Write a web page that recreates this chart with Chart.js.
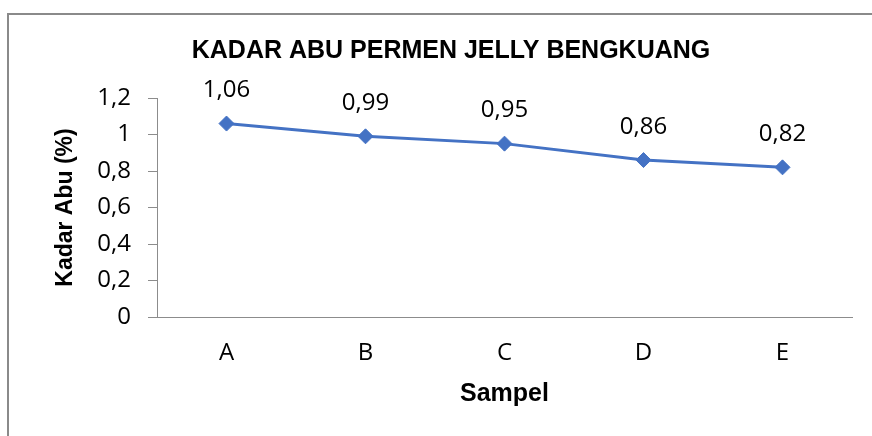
<!DOCTYPE html>
<html>
<head>
<meta charset="utf-8">
<script src="https://cdn.jsdelivr.net/npm/chart.js@4"></script>
<style>
  html, body { margin: 0; padding: 0; background: #fff; }
  #wrap { position: relative; width: 872px; height: 436px; overflow: hidden; }
  #frame { position: absolute; left: 7px; top: 13px; width: 900px; height: 460px;
           border-top: 2px solid #8a8a8a; border-left: 2px solid #8a8a8a; pointer-events: none; }
</style>
</head>
<body>
<div id="wrap">
  <canvas id="chart" width="872" height="436"></canvas>
  <div id="frame"></div>
</div>
<script>
// ===== chart data =====
const samples = ['A', 'B', 'C', 'D', 'E'];
const ashValues = [1.06, 0.99, 0.95, 0.86, 0.82];
const chartTitle = 'KADAR ABU PERMEN JELLY BENGKUANG';
const xTitle = 'Sampel';
const yTitle = 'Kadar Abu (%)';

const numFont = "'Open Sans', sans-serif";
const boldFont = "'Liberation Sans', Arial, sans-serif";

// comma decimals, like the original
function fmt(v, digits) {
  return (digits != null ? v.toFixed(digits) : String(Math.round(v * 10) / 10)).replace('.', ',');
}

// value labels above each point
const valueLabels = {
  id: 'valueLabels',
  afterDatasetsDraw(chart) {
    const ctx = chart.ctx;
    const meta = chart.getDatasetMeta(0);
    ctx.save();
    ctx.font = '24px ' + numFont;
    ctx.fillStyle = '#000';
    ctx.textAlign = 'center';
    ctx.textBaseline = 'middle';
    meta.data.forEach((pt, i) => {
      ctx.fillText(fmt(ashValues[i], 2), pt.x, pt.y - 33);
    });
    ctx.restore();
  }
};

new Chart(document.getElementById('chart'), {
  type: 'line',
  data: {
    labels: samples,
    datasets: [{
      data: ashValues,
      borderColor: '#4472C4',
      backgroundColor: '#4472C4',
      borderWidth: 3,
      pointStyle: 'rectRot',
      pointRadius: 7.5,
      pointBorderWidth: 1,
      tension: 0
    }]
  },
  options: {
    responsive: false,
    animation: false,
    layout: { padding: { left: 50, right: 20, top: 0, bottom: 0 } },
    plugins: {
      legend: { display: false },
      tooltip: { enabled: false },
      title: {
        display: true,
        text: chartTitle,
        color: '#000',
        font: { family: boldFont, size: 25, weight: 'bold' },
        padding: { top: 36, bottom: 32 }
      }
    },
    scales: {
      x: {
        offset: true,
        grid: { display: false, drawTicks: false },
        border: { display: true, color: '#8c8c8c', width: 1 },
        ticks: { color: '#000', padding: 22, font: { family: numFont, size: 24 } },
        title: {
          display: true, text: xTitle, color: '#000',
          font: { family: boldFont, size: 25, weight: 'bold' },
          padding: { top: 0, bottom: 27 }
        },
        afterFit(scale) { scale.height = 119; }
      },
      y: {
        min: 0, max: 1.2,
        grid: { drawOnChartArea: false, drawTicks: true, tickLength: 9, color: '#8c8c8c' },
        border: { display: true, color: '#8c8c8c', width: 1 },
        ticks: { stepSize: 0.2, color: '#000', padding: 17, font: { family: numFont, size: 24 },
                 callback: v => fmt(v) },
        title: {
          display: true, text: yTitle, color: '#000',
          font: { family: boldFont, size: 23, weight: 'bold' },
          padding: { top: 2, bottom: 0 }
        },
        afterFit(scale) { scale.width = 107; }
      }
    }
  },
  plugins: [valueLabels]
});
</script>
</body>
</html>
